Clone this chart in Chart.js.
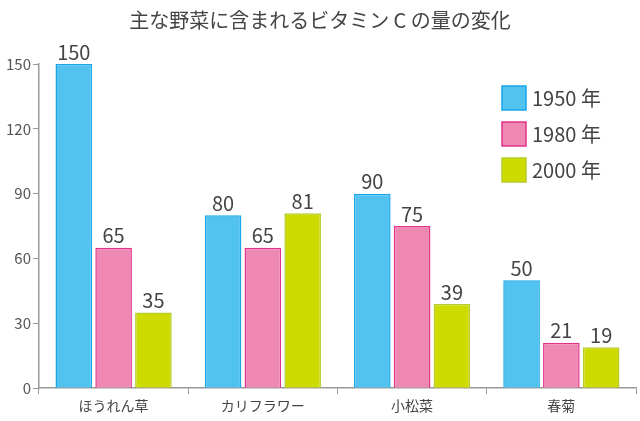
<!DOCTYPE html>
<html>
<head>
<meta charset="utf-8">
<script src="https://cdn.jsdelivr.net/npm/chart.js@4"></script>
<style>
  body { margin: 0; background: #fff; }
  #wrap { width: 640px; height: 421px; }
</style>
</head>
<body>
<div id="wrap"><canvas id="chart"></canvas></div>
<script>
const titulo = '主な野菜に含まれるビタミン C の量の変化';
const categorias = ['ほうれん草', 'カリフラワー', '小松菜', '春菊'];
const series = ['1950 年', '1980 年', '2000 年'];
const v1950 = [150, 80, 90, 50];
const v1980 = [65, 65, 75, 21];
const v2000 = [35, 81, 39, 19];
const ticksY = [0, 30, 60, 90, 120, 150];

const fuente = '"Noto Sans CJK JP", "Noto Sans", sans-serif';
const rellenos = ['#52c2f0', '#ef89b4', '#cedb00'];
const bordes = ['#1aa6e8', '#e4328a', '#b5cc2a'];

// título, etiquetas de valor y leyenda dibujados a mano
const extras = {
  id: 'extras',
  afterDatasetsDraw(chart) {
    const ctx = chart.ctx;
    ctx.save();
    ctx.fillStyle = '#444';
    ctx.font = '20px ' + fuente;
    ctx.textAlign = 'center';
    ctx.textBaseline = 'middle';
    ctx.fillText(titulo, 320, 20);

    ctx.font = '20px ' + fuente;
    ctx.textBaseline = 'bottom';
    chart.data.datasets.forEach((ds, i) => {
      chart.getDatasetMeta(i).data.forEach((bar, j) => {
        ctx.fillText(ds.data[j], bar.x, bar.y - 2);
      });
    });

    ctx.textAlign = 'left';
    ctx.textBaseline = 'middle';
    series.forEach((s, i) => {
      const y = 98 + i * 36;
      ctx.fillStyle = rellenos[i];
      ctx.strokeStyle = bordes[i];
      ctx.lineWidth = 1.5;
      ctx.fillRect(502, y - 12, 24, 24);
      ctx.strokeRect(502, y - 12, 24, 24);
      ctx.fillStyle = '#444';
      ctx.fillText(s, 532, y);
    });
    ctx.restore();
  }
};

new Chart(document.getElementById('chart'), {
  type: 'bar',
  data: {
    labels: categorias,
    datasets: [v1950, v1980, v2000].map((d, i) => ({
      label: series[i],
      data: d,
      backgroundColor: rellenos[i],
      borderColor: bordes[i],
      borderWidth: 1.5,
      categoryPercentage: 0.8,
      barPercentage: 0.92
    }))
  },
  options: {
    responsive: true,
    maintainAspectRatio: false,
    animation: false,
    layout: { padding: { top: 64, right: 4, left: 4, bottom: 4 } },
    plugins: { legend: { display: false }, title: { display: false }, tooltip: { enabled: false } },
    scales: {
      x: {
        grid: { display: true, drawOnChartArea: false, offset: true, tickLength: 6, color: '#999' },
        border: { color: '#999', width: 1.5 },
        ticks: { color: '#444', font: { family: fuente, size: 14 } }
      },
      y: {
        min: 0, max: 150,
        afterBuildTicks(axis) { axis.ticks = ticksY.map(v => ({ value: v })); },
        grid: { display: true, drawOnChartArea: false, tickLength: 6, color: '#999' },
        border: { color: '#999', width: 1.5 },
        ticks: { color: '#555', padding: 2, font: { family: fuente, size: 15 } }
      }
    }
  },
  plugins: [extras]
});
</script>
</body>
</html>
